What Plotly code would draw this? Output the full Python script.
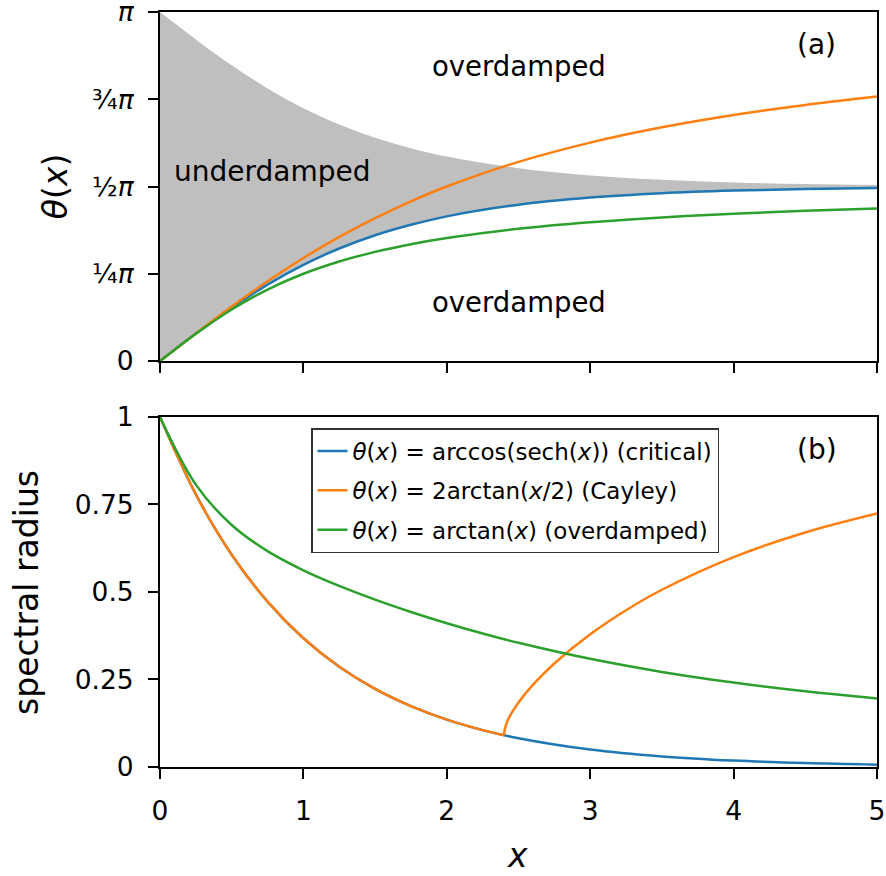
import numpy as np
import plotly.graph_objects as go

# ---------------- data ----------------
# panel (a): theta(x)
x_top = [0, 0.1, 0.25, 0.5, 0.75, 1, 1.25, 1.5, 1.75, 2, 2.5, 3, 3.5, 4, 4.5, 5]
theta_critical = [0, 0.0998, 0.247, 0.480, 0.688, 0.866, 1.013, 1.132, 1.226, 1.302,
                  1.407, 1.471, 1.510, 1.534, 1.549, 1.557]
underdamped_upper = [3.1416, 3.0418, 2.895, 2.662, 2.454, 2.276, 2.129, 2.010, 1.916, 1.840,
                     1.735, 1.671, 1.632, 1.608, 1.593, 1.585]
theta_cayley = [0, 0.0999, 0.2487, 0.4900, 0.7175, 0.9273, 1.1172, 1.2870, 1.4377, 1.5708,
                1.7922, 1.9656, 2.1034, 2.2143, 2.3052, 2.3806]
theta_over = [0, 0.0997, 0.2450, 0.4636, 0.6435, 0.7854, 0.8961, 0.9828, 1.0517, 1.1071,
              1.1903, 1.2490, 1.2925, 1.3258, 1.3521, 1.3734]

# panel (b): spectral radius
x_bot = [0, 0.25, 0.5, 0.75, 1, 1.25, 1.5, 1.75, 2, 2.25, 2.5, 3, 3.5, 4, 4.5, 5]
rho_critical = [1, 0.7788, 0.6065, 0.4724, 0.3679, 0.2865, 0.2231, 0.1738, 0.1353, 0.1054,
                0.0821, 0.0498, 0.0302, 0.0183, 0.0111, 0.0067]
rho_over = [1, 0.8067, 0.6914, 0.6167, 0.5620, 0.5173, 0.4782, 0.4430, 0.4108, 0.3815,
            0.3549, 0.3090, 0.2716, 0.2412, 0.2164, 0.1959]
x_cay_a = [0, 0.25, 0.5, 0.75, 1, 1.25, 1.5, 1.75, 2, 2.25, 2.3994]
rho_cay_a = [1, 0.7788, 0.6065, 0.4724, 0.3679, 0.2865, 0.2231, 0.1738, 0.1353, 0.1054, 0.0908]
x_cay_b = [2.3994, 2.40, 2.41, 2.42, 2.43, 2.45, 2.5, 2.6, 2.75, 3, 3.25, 3.5, 4, 4.5, 5]
rho_cay_b = [0.0908, 0.0968, 0.1167, 0.1281, 0.1374, 0.1530, 0.1845, 0.2344, 0.2956, 0.3790,
             0.4479, 0.5064, 0.5997, 0.6700, 0.7241]

theta_ticks = [0, 0.25, 0.5, 0.75, 1.0]          # multiples of pi
theta_ticklabels = ["0", "¼<i>π</i>", "½<i>π</i>", "¾<i>π</i>", "<i>π</i>"]
rho_ticks = [0, 0.25, 0.5, 0.75, 1]
rho_ticklabels = ["0", "0.25", "0.5", "0.75", "1"]
x_ticks = [0, 1, 2, 3, 4, 5]

legend_names = ["<i>θ</i>(<i>x</i>) = arccos(sech(<i>x</i>)) (critical)",
                "<i>θ</i>(<i>x</i>) = 2arctan(<i>x</i>/2) (Cayley)",
                "<i>θ</i>(<i>x</i>) = arctan(<i>x</i>) (overdamped)"]

BLUE, ORANGE, GREEN = "#1f77b4", "#ff7f0e", "#2ca02c"
FILL = "#bfbfbf"
LW = 2.5
FONT = "DejaVu Sans"

fig = go.Figure()

# ---------------- panel (a) ----------------
fig.add_trace(go.Scatter(x=x_top, y=theta_critical, mode="lines", line=dict(width=0, shape="spline"),
                         showlegend=False, hoverinfo="skip", xaxis="x", yaxis="y"))
fig.add_trace(go.Scatter(x=x_top, y=underdamped_upper, mode="lines", fill="tonexty", fillcolor=FILL,
                         line=dict(width=0, shape="spline"), showlegend=False, hoverinfo="skip",
                         xaxis="x", yaxis="y"))
for yv, col in [(theta_critical, BLUE), (theta_cayley, ORANGE), (theta_over, GREEN)]:
    fig.add_trace(go.Scatter(x=x_top, y=yv, mode="lines", line=dict(color=col, width=LW, shape="spline"),
                             showlegend=False, xaxis="x", yaxis="y"))

# ---------------- panel (b) ----------------
fig.add_trace(go.Scatter(x=x_bot, y=rho_critical, mode="lines", name=legend_names[0],
                         line=dict(color=BLUE, width=LW, shape="spline"), legendgroup="g1",
                         xaxis="x2", yaxis="y2"))
fig.add_trace(go.Scatter(x=x_cay_a, y=rho_cay_a, mode="lines", name=legend_names[1],
                         line=dict(color=ORANGE, width=LW, shape="spline"), legendgroup="g2",
                         xaxis="x2", yaxis="y2"))
fig.add_trace(go.Scatter(x=x_cay_b, y=rho_cay_b, mode="lines", name=legend_names[1],
                         line=dict(color=ORANGE, width=LW, shape="spline"), legendgroup="g2",
                         showlegend=False, xaxis="x2", yaxis="y2"))
fig.add_trace(go.Scatter(x=x_bot, y=rho_over, mode="lines", name=legend_names[2],
                         line=dict(color=GREEN, width=LW, shape="spline"), legendgroup="g3",
                         xaxis="x2", yaxis="y2"))

axis_common = dict(showline=True, linecolor="black", linewidth=2, mirror=True,
                   ticks="outside", ticklen=10, tickwidth=2, tickcolor="black",
                   showgrid=False, zeroline=False, automargin=False,
                   ticklabeloverflow="allow",
                   tickfont=dict(family=FONT, size=26.5, color="black"))

fig.update_layout(
    width=886, height=876,
    margin=dict(l=160, r=9, t=12, b=109, autoexpand=False),
    paper_bgcolor="white", plot_bgcolor="white",
    font=dict(family=FONT, color="black"),
    xaxis=dict(range=[0, 5], domain=[0, 1], anchor="y", tickvals=x_ticks, showticklabels=False,
               **axis_common),
    yaxis=dict(range=[0, np.pi], domain=[0.5377, 1], anchor="x",
               tickvals=[t * np.pi for t in theta_ticks], ticktext=theta_ticklabels,
               ticklabelstandoff=9, **axis_common),
    xaxis2=dict(range=[0, 5], domain=[0, 1], anchor="y2", tickvals=x_ticks,
                ticktext=[str(v) for v in x_ticks], ticklabelstandoff=9, **axis_common),
    yaxis2=dict(range=[0, 1], domain=[0, 0.4636], anchor="x2", tickvals=rho_ticks,
                ticktext=rho_ticklabels, ticklabelstandoff=9, **axis_common),
    legend=dict(x=0.2106, y=0.449, xanchor="left", yanchor="top",
                bgcolor="white", bordercolor="#333333", borderwidth=1.5,
                font=dict(family=FONT, size=23, color="black"),
                traceorder="grouped", tracegroupgap=6.5),
    showlegend=True,
)

ann = []
def add_text(text, x, y, xref, yref, size, angle=0):
    ann.append(dict(text=text, x=x, y=y, xref=xref, yref=yref, showarrow=False,
                    xanchor="center", yanchor="middle", textangle=angle,
                    font=dict(family=FONT, size=size, color="black")))

add_text("(a)", 4.58, 2.853, "x", "y", 28)
add_text("overdamped", 2.503, 2.655, "x", "y", 27.5)
add_text("overdamped", 2.503, 0.531, "x", "y", 27.5)
add_text("underdamped", 0.781, 1.710, "x", "y", 28)
add_text("(b)", 4.58, 0.906, "x2", "y2", 28)
add_text("<i>θ</i>(<i>x</i>)", -0.1464, 0.768, "paper", "paper", 33, -90)
add_text("spectral radius", -0.1855, 0.2318, "paper", "paper", 33, -90)
add_text("<i>x</i>", 0.498, -0.117, "paper", "paper", 33)
fig.update_layout(annotations=ann)

fig.write_html("out.html", config={"displayModeBar": False},
               post_script="document.body.style.margin='0';document.body.style.overflow='hidden';")
